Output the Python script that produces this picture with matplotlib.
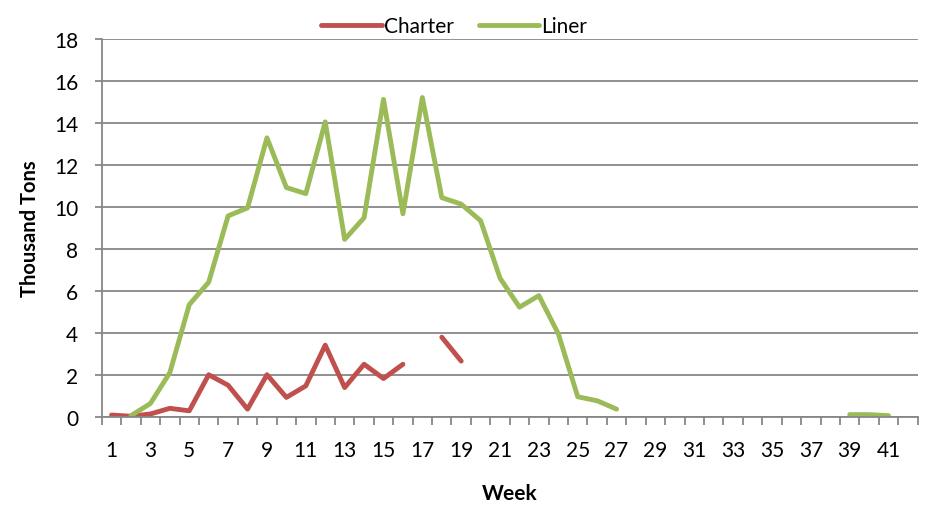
import numpy as np
import matplotlib.pyplot as plt

# weekly volumes, thousand tons (None = no data)
weeks = list(range(1, 43))
charter = [0.08, 0.02, 0.13, 0.4, 0.28, 2.0, 1.5, 0.36, 2.0, 0.92,
           1.47, 3.41, 1.39, 2.5, 1.82, 2.5, None, 3.79, 2.65] + [None] * 23
liner = [None, 0.05, 0.63, 2.1, 5.34, 6.41, 9.57, 9.95, 13.29, 10.92,
         10.63, 14.05, 8.45, 9.48, 15.12, 9.67, 15.21, 10.44, 10.13, 9.34,
         6.6, 5.22, 5.77, 3.95, 0.95, 0.76, 0.36] + [None] * 11 + [0.1, 0.1, 0.05, None]
week_labels = [str(w) for w in range(1, 42, 2)]

plt.rcParams['font.family'] = ['Lato', 'DejaVu Sans']
grid_col = '#878787'

fig = plt.figure(figsize=(9.26, 5.06), dpi=100)
ax = fig.add_axes([0.110, 0.1745, 0.881, 0.7465])

c = np.array([np.nan if v is None else v for v in charter])
l = np.array([np.nan if v is None else v for v in liner])
ax.plot(weeks, c, color='#C0504D', lw=3.5, solid_capstyle='round', solid_joinstyle='round', label='Charter')
ax.plot(weeks, l, color='#9BBB59', lw=3.5, solid_capstyle='round', solid_joinstyle='round', label='Liner')

ax.set_xlim(0.5, 42.5)
ax.set_ylim(0, 18)
ax.set_yticks(range(0, 19, 2))
ax.yaxis.grid(True, color=grid_col, lw=1.3)
ax.set_axisbelow(True)

# category boundaries get tick marks, labels sit at odd weeks
ax.set_xticks(np.arange(0.5, 43, 1))
ax.set_xticklabels([])
ax.set_xticks(range(1, 42, 2), minor=True)
ax.set_xticklabels(week_labels, minor=True)
ax.tick_params(axis='x', which='major', length=6, color=grid_col, width=1.3)
ax.tick_params(axis='x', which='minor', length=0, pad=17, labelsize=15)
ax.tick_params(axis='y', length=5, color=grid_col, width=1.3, labelsize=15, pad=12)

for s in ['top', 'right']:
    ax.spines[s].set_visible(False)
for s in ['left', 'bottom']:
    ax.spines[s].set_color(grid_col)
    ax.spines[s].set_linewidth(1.3)

ax.set_xlabel('Week', fontsize=15, fontweight='bold', labelpad=16)
ax.set_ylabel('Thousand Tons', fontsize=14.5, fontweight='bold', labelpad=10)

ax.legend(loc='lower center', bbox_to_anchor=(0.432, 0.985), ncol=2, frameon=False,
          fontsize=15, handlelength=2.9, handletextpad=0.1, columnspacing=1.2,
          borderaxespad=0)

fig.savefig('out.png', dpi=100)
